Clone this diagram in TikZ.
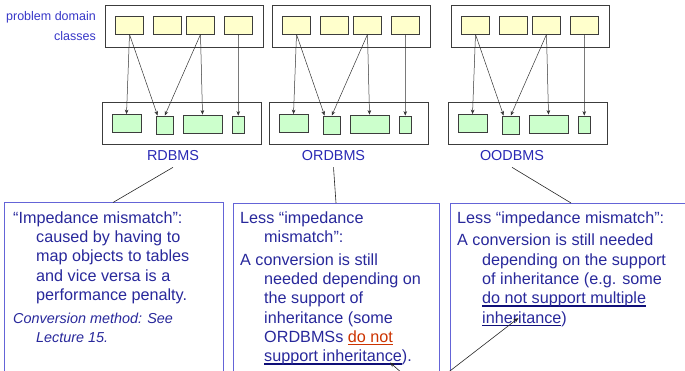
\documentclass[tikz,border=0pt]{standalone}
\usepackage{fontspec}
\setmainfont{Liberation Sans}
\usetikzlibrary{arrows.meta}

\definecolor{txtblue}{RGB}{40,40,155}
\definecolor{lblblue}{RGB}{40,40,180}
\definecolor{pdblue}{RGB}{55,55,200}
\definecolor{calloutedge}{RGB}{100,100,215}
\definecolor{boxedge}{RGB}{60,60,60}
\definecolor{clsfill}{RGB}{255,255,204}
\definecolor{tblfill}{RGB}{204,255,204}
\definecolor{navyline}{RGB}{15,15,120}
\definecolor{redtxt}{RGB}{204,51,0}

% underline with a bar of given colour and thickness
\newsavebox\ulsave
\newcommand\ulbar[3]{\sbox\ulsave{#3}\rlap{\textcolor{#1}{\rule[-3pt]{\wd\ulsave}{#2}}}\usebox\ulsave}

\begin{document}
\begin{tikzpicture}[x=1pt,y=-1pt,
  outer/.style={draw=boxedge, line width=0.9pt, fill=white, inner sep=0, minimum height=41.5pt},
  cls/.style={draw=boxedge, line width=0.8pt, fill=clsfill, inner sep=0, minimum width=28pt, minimum height=18pt},
  tbl/.style={draw=boxedge, line width=0.8pt, fill=tblfill, inner sep=0, minimum height=18pt},
  map/.style={draw=black!80, line width=0.5pt, -{Stealth[length=4.5pt,width=3.6pt]}},
  pdlabel/.style={text=pdblue, font=\fontsize{12.5}{15}\selectfont, inner sep=0},
  dbname/.style={text=lblblue, font=\fontsize{14.4}{17}\selectfont, inner xsep=0, inner ysep=6pt},
  callout/.style={draw=calloutedge, line width=0.8pt, inner sep=0},
  note/.style={text=txtblue, font=\fontsize{16.2}{19.3}\selectfont, align=left, inner sep=0, anchor=north west},
  lead/.style={draw=black!85, line width=0.6pt},
  pointer/.style={draw=black!85, line width=0.6pt, -{Stealth[length=5pt,width=4pt]}}]

\useasboundingbox (0,0) rectangle (685,371);
\clip (0,0) rectangle (685,371);

% label of the class row
\node[pdlabel, anchor=base east] (pd1) at (96,21) {problem domain};
\node[pdlabel, anchor=base east] (pd2) at (96,41) {classes};

% three mappings: classes (top row) onto storage structures (bottom row)
\foreach \g/\d in {1/0,2/167,3/346}{
  \node[outer, minimum width=158pt] (top\g) at (184+\d,26.25) {};
  \node[outer, minimum width=159.5pt] (bot\g) at (181.75+\d,123.25) {};
  \node[cls] (y\g-a) at (129.5+\d,25) {};
  \node[cls] (y\g-b) at (167.5+\d,25) {};
  \node[cls] (y\g-c) at (200.5+\d,25) {};
  \node[cls] (y\g-d) at (238.5+\d,25) {};
  \node[tbl, minimum width=29pt] (g\g-a) at (126.5+\d,123.5) {};
  \node[tbl, minimum width=16.5pt] (g\g-b) at (164.75+\d,125) {};
  \node[tbl, minimum width=39pt] (g\g-c) at (202.5+\d,124) {};
  \node[tbl, minimum width=11.5pt, minimum height=17.5pt] (g\g-d) at (238.25+\d,124.75) {};
  \draw[map] (y\g-a.south) -- (g\g-a.north);
  \draw[map] (y\g-a.south) -- ([xshift=1.5pt]g\g-b.north west);
  \draw[map] (y\g-c.south) -- (g\g-b.north);
  \draw[map] (y\g-c.south) -- (g\g-c.north);
  \draw[map] (y\g-d.south) -- (g\g-d.north);
}

% database kinds
\node[dbname, anchor=base] (rd) at (173,161) {RDBMS};
\node[dbname, anchor=base] (ord) at (333.5,161) {ORDBMS};
\node[dbname, anchor=base] (ood) at (512,161) {OODBMS};

% callout frames
\node[callout, anchor=north west, minimum width=219pt, minimum height=200pt] (n1) at (4,202.5) {};
\node[callout, anchor=north west, minimum width=206pt, minimum height=200pt] (n2) at (233,203) {};
\node[callout, anchor=north west, minimum width=260pt, minimum height=200pt] (n3) at (450,203) {};

\draw[lead] (rd.south) -- ([xshift=109pt]n1.north west);
\draw[lead] (ord.south) -- ([xshift=103pt]n2.north west);
\draw[lead] (ood.south) -- ([xshift=121pt]n3.north west);

% callout texts
\node[note] (t1) at (13,211.2) {“Impedance mismatch”:\\
\hspace*{23pt}caused by having to\\
\hspace*{23pt}map objects to tables\\
\hspace*{23pt}and vice versa is a\\
\hspace*{23pt}performance penalty.};
\node[note, font=\fontsize{14.4}{19}\itshape] (t1b) at (13,312.5) {Conversion method: See\\
\hspace*{23pt}Lecture 15.};

\node[note] (t2) at (240,211.2) {Less “impedance\\
\hspace*{24pt}mismatch”:\\[3.5pt]
A conversion is still\\
\hspace*{24pt}needed depending on\\
\hspace*{24pt}the support of\\
\hspace*{24pt}inheritance (some\\
\hspace*{24pt}ORDBMSs \ulbar{redtxt}{1pt}{\textcolor{redtxt}{do not}}\\
\hspace*{24pt}\ulbar{navyline}{1.8pt}{support inheritance}).};

\node[note] (t3) at (457,211.2) {Less “impedance mismatch”:\\[3.5pt]
A conversion is still needed\\
\hspace*{25pt}depending on the support\\
\hspace*{25pt}of inheritance (e.g. some\\
\hspace*{25pt}\ulbar{navyline}{1.6pt}{do not support multiple}\\
\hspace*{25pt}\ulbar{navyline}{1.6pt}{inheritance})};

% pointers entering from below
\coordinate (p2) at (403,374);
\coordinate (q2) at (390,362.5);
\draw[pointer] (p2) -- (q2);
\coordinate (p3) at (446,374);
\coordinate (q3) at (518.5,318);
\draw[pointer] (p3) -- (q3);
\end{tikzpicture}
\end{document}
